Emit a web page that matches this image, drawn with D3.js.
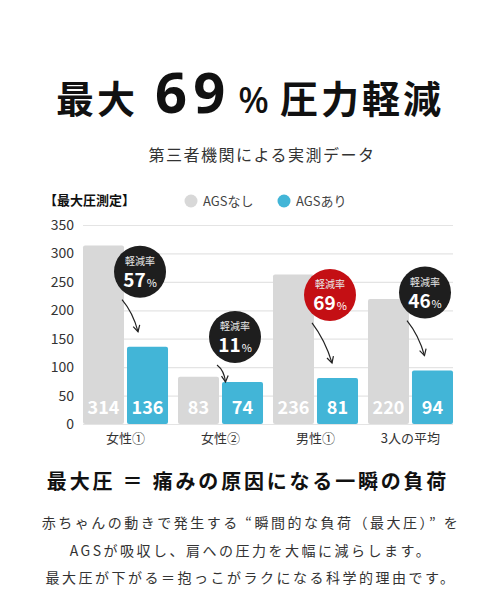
<!DOCTYPE html>
<html>
<head>
<meta charset="utf-8">
<script src="https://cdn.jsdelivr.net/npm/d3@7"></script>
<style>
  body { margin: 0; background: #fff; }
  svg { display: block; font-family: "Noto Sans CJK JP", "Noto Sans", sans-serif; }
</style>
</head>
<body>
<div id="chart"></div>
<script>
const categories = ["女性①", "女性②", "男性①", "3人の平均"]
const seriesNames = ["AGSなし", "AGSあり"]
const withoutAGS = [314, 83, 263, 220]
// numbers printed on the gray bars (the 男性① bar is drawn taller than its label)
const withoutLabels = ["314", "83", "236", "220"]
const withAGS = [136, 74, 81, 94]
const reductionRates = [57, 11, 69, 46]
const yTicks = [0, 50, 100, 150, 200, 250, 300, 350]

const svgWidth = 500
const svgHeight = 600
const colors = { none: "#d8d8d8", with: "#42b5d7", dark: "#1e1e1e", red: "#c40f14" }
// how far above the blue bar each callout sits (px)
const calloutLift = [75, 45, 83, 78]

let svg = d3.select("#chart")
  .append("svg")
  .attr("width", svgWidth)
  .attr("height", svgHeight)

// headline
let title = svg.append("text")
  .attr("x", 250)
  .attr("y", 113)
  .attr("text-anchor", "middle")
  .attr("fill", "#111")
  .style("font-weight", 700)
title.append("tspan").text("最大").style("font-size", "38px").style("letter-spacing", "3px")
title.append("tspan").text("69").style("font-size", "56px").style("letter-spacing", "6px")
  .style("font-family", "'Noto Sans', sans-serif").attr("dx", 17)
title.append("tspan").text("%").style("font-size", "36px").style("font-weight", 500)
  .style("font-family", "'Noto Sans', sans-serif").attr("dx", 7)
title.append("tspan").text("圧力軽減").style("font-size", "38px").style("letter-spacing", "3px").attr("dx", 11)

svg.append("text")
  .attr("x", 262)
  .attr("y", 161)
  .attr("text-anchor", "middle")
  .attr("fill", "#333")
  .style("font-size", "16px")
  .style("letter-spacing", "1.5px")
  .text("第三者機関による実測データ")

// chart
let x0 = d3.scaleBand()
  .domain(categories)
  .range([83, 453])
  .paddingInner(0.105)
  .paddingOuter(0)
let x1 = d3.scaleBand()
  .domain(seriesNames)
  .range([0, x0.bandwidth()])
  .paddingInner(0.068)
let y = d3.scaleLinear()
  .domain([0, 350])
  .range([424, 225])

svg.append("text")
  .attr("x", 44)
  .attr("y", 205)
  .attr("fill", "#111")
  .style("font-size", "13px")
  .style("font-weight", 700)
  .text("【最大圧測定】")

let legend = svg.append("g")
  .selectAll("g")
  .data(seriesNames)
  .enter()
  .append("g")
  .attr("transform", (d, i) => `translate(${191 + i * 93}, 201)`)
legend.append("circle")
  .attr("r", 6.5)
  .attr("fill", (d, i) => i === 0 ? colors.none : colors.with)
legend.append("text")
  .attr("x", 12)
  .attr("y", 5)
  .attr("fill", "#444")
  .style("font-size", "13px")
  .text(d => d)

// grid
svg.append("g")
  .selectAll("line")
  .data(yTicks)
  .enter()
  .append("line")
  .attr("x1", 83)
  .attr("x2", 453)
  .attr("y1", d => y(d) + 0.5)
  .attr("y2", d => y(d) + 0.5)
  .attr("stroke", "#e4e4e4")
  .attr("stroke-width", 1.2)

let leftAxis = d3.axisLeft(y).tickValues(yTicks).tickSize(0).tickPadding(0)
let yAxis = svg.append("g")
  .attr("transform", "translate(74, 0)")
  .call(leftAxis)
yAxis.select(".domain").remove()
yAxis.selectAll("text")
  .attr("fill", "#333")
  .style("font-size", "14px")
  .style("font-family", "'Noto Sans CJK JP', sans-serif")

let groups = svg.append("g")
  .selectAll("g")
  .data(categories)
  .enter()
  .append("g")
  .attr("transform", d => `translate(${x0(d)}, 0)`)

groups.append("rect")
  .attr("x", x1("AGSなし"))
  .attr("width", x1.bandwidth())
  .attr("y", (d, i) => y(withoutAGS[i]))
  .attr("height", (d, i) => y(0) - y(withoutAGS[i]))
  .attr("rx", 2)
  .attr("fill", colors.none)
groups.append("rect")
  .attr("x", x1("AGSあり"))
  .attr("width", x1.bandwidth())
  .attr("y", (d, i) => y(withAGS[i]))
  .attr("height", (d, i) => y(0) - y(withAGS[i]))
  .attr("rx", 2)
  .attr("fill", colors.with)

groups.append("text")
  .attr("x", x1("AGSなし") + x1.bandwidth() / 2)
  .attr("y", y(0) - 10)
  .attr("text-anchor", "middle")
  .attr("fill", "#fff")
  .style("font-size", "18px")
  .style("font-weight", 700)
  .text((d, i) => withoutLabels[i])
groups.append("text")
  .attr("x", x1("AGSあり") + x1.bandwidth() / 2)
  .attr("y", y(0) - 10)
  .attr("text-anchor", "middle")
  .attr("fill", "#fff")
  .style("font-size", "18px")
  .style("font-weight", 700)
  .text((d, i) => withAGS[i])

groups.append("text")
  .attr("x", x0.bandwidth() / 2)
  .attr("y", 443)
  .attr("text-anchor", "middle")
  .attr("fill", "#333")
  .style("font-size", "13px")
  .text(d => d)

// callouts with arrows
groups.each(function(d, i) {
  let g = d3.select(this)
  let r = 26
  let cx = x1.bandwidth() + 16
  let blueTop = y(withAGS[i])
  let cy = blueTop - calloutLift[i]
  let sx = cx - 18
  let sy = cy + r + 2
  let ey = Math.max(sy + 17, blueTop - 15)
  let ex = sx + (ey - sy) * 0.5
  let mx = (sx + ex) / 2 + 3
  let my = (sy + ey) / 2 - 3
  g.append("path")
    .attr("d", `M${sx},${sy} Q${mx},${my} ${ex},${ey}`)
    .attr("fill", "none")
    .attr("stroke", "#222")
    .attr("stroke-width", 1.2)
  let ang = Math.atan2(ey - my, ex - mx)
  let hl = 7
  let p1 = [ex - hl * Math.cos(ang - 0.5), ey - hl * Math.sin(ang - 0.5)]
  let p2 = [ex - hl * Math.cos(ang + 0.5), ey - hl * Math.sin(ang + 0.5)]
  g.append("path")
    .attr("d", `M${p1[0]},${p1[1]} L${ex},${ey} L${p2[0]},${p2[1]}`)
    .attr("fill", "none")
    .attr("stroke", "#222")
    .attr("stroke-width", 1.2)

  g.append("circle")
    .attr("cx", cx)
    .attr("cy", cy)
    .attr("r", r)
    .attr("fill", reductionRates[i] === d3.max(reductionRates) ? colors.red : colors.dark)
  g.append("text")
    .attr("x", cx)
    .attr("y", cy - 7)
    .attr("text-anchor", "middle")
    .attr("fill", "#e8e8e8")
    .style("font-size", "10px")
    .text("軽減率")
  let t = g.append("text")
    .attr("x", cx)
    .attr("y", cy + 15)
    .attr("text-anchor", "middle")
    .attr("fill", "#fff")
  t.append("tspan").text(reductionRates[i]).style("font-size", "19px").style("font-weight", 700)
  t.append("tspan").text("%").style("font-size", "11px").attr("dx", 1)
})

// bottom copy
svg.append("text")
  .attr("x", 248)
  .attr("y", 489)
  .attr("text-anchor", "middle")
  .attr("fill", "#111")
  .style("font-size", "20px")
  .style("font-weight", 700)
  .style("letter-spacing", "2.8px")
  .text("最大圧 ＝ 痛みの原因になる一瞬の負荷")

const bodyLines = [
  "赤ちゃんの動きで発生する “瞬間的な負荷（最大圧）” を",
  "AGSが吸収し、肩への圧力を大幅に減らします。",
  "最大圧が下がる＝抱っこがラクになる科学的理由です。"
]
svg.append("g")
  .selectAll("text")
  .data(bodyLines)
  .enter()
  .append("text")
  .attr("x", 251)
  .attr("y", (d, i) => 528 + i * 27.5)
  .attr("text-anchor", "middle")
  .attr("fill", "#333")
  .style("font-size", "14px")
  .style("letter-spacing", "2.5px")
  .text(d => d)
</script>
</body>
</html>
